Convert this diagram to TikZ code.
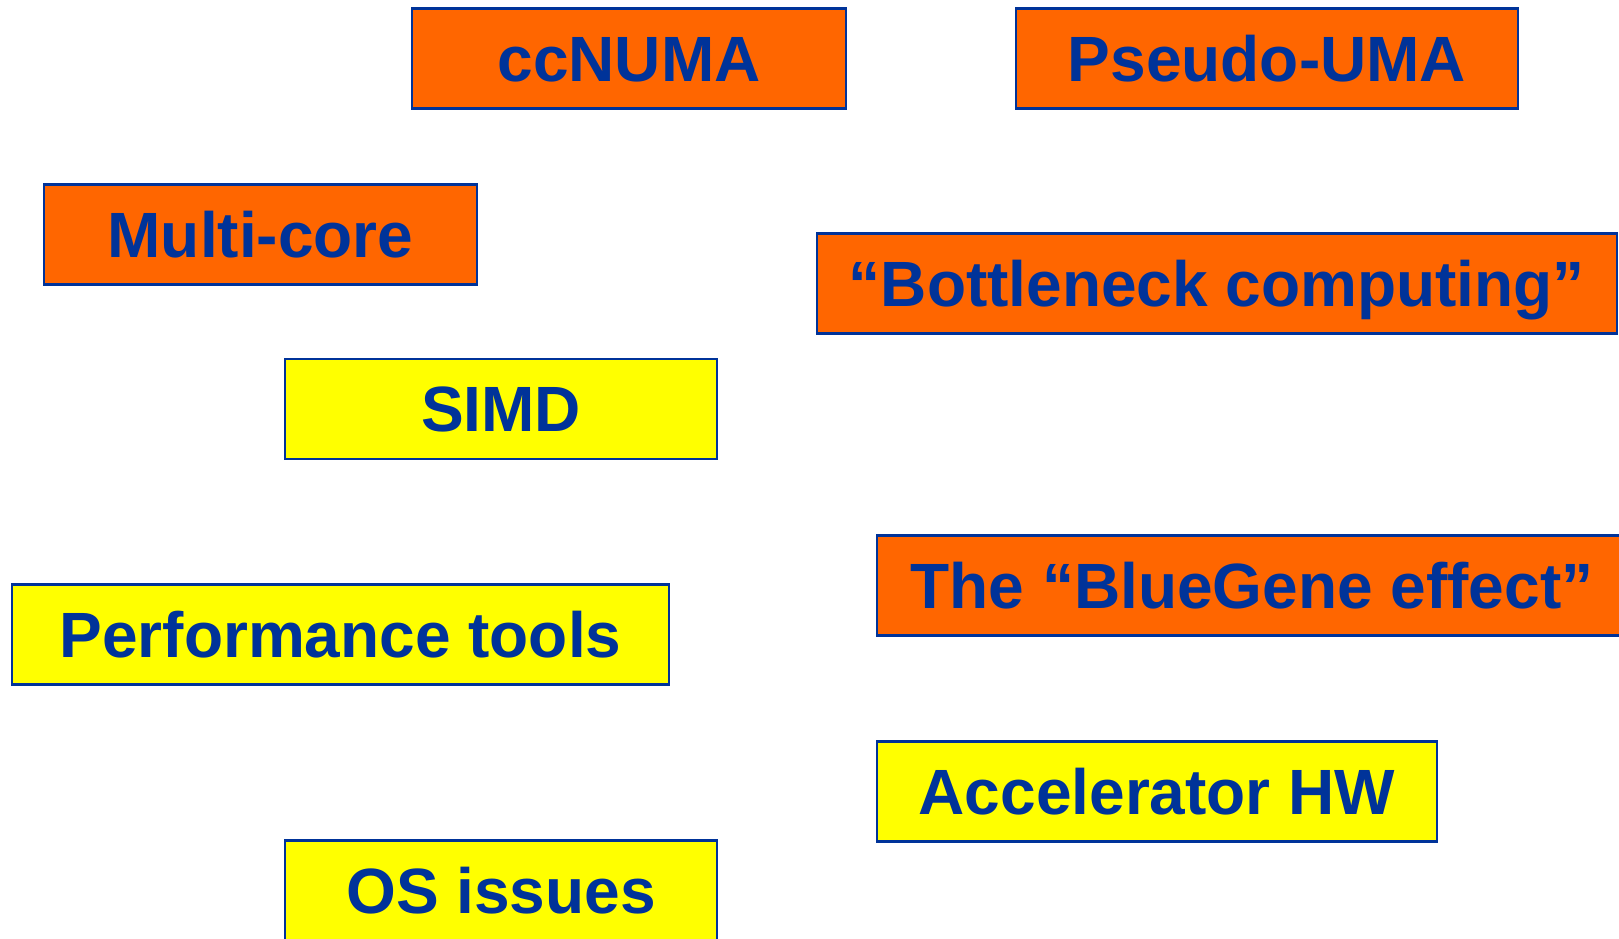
\documentclass[tikz,border=0pt]{standalone}
\usepackage{fontspec}
\setmainfont{Liberation Sans}
\definecolor{txtblue}{HTML}{003399}
\definecolor{boxorange}{HTML}{FF6600}
\definecolor{boxyellow}{HTML}{FFFF00}
\begin{document}
\begin{tikzpicture}[x=1pt,y=1pt,
  tbox/.style={draw=txtblue, line width=2.3pt, inner sep=0pt,
    minimum height=100pt, text=txtblue,
    font=\fontsize{64}{77}\selectfont\bfseries,
    text height=45.8pt, text depth=0pt, anchor=center},
  obox/.style={tbox, fill=boxorange},
  ybox/.style={tbox, fill=boxyellow}]
\useasboundingbox (0,0) rectangle (1619,938);
\node[obox, minimum width=434pt] (ccnuma) at (629,879.5) {ccNUMA};
\node[obox, minimum width=502pt] (puma) at (1267,879.5) {Pseudo-UMA};
\node[obox, minimum width=433pt] (multi) at (260.5,703.5) {Multi-core};
\node[obox, minimum width=800pt] (bottle) at (1217,654.5) {“Bottleneck computing”};
\node[ybox, minimum width=432pt] (simd) at (501,529) {SIMD};
\node[ybox, minimum width=657pt] (perf) at (340.5,303.5) {Performance tools};
\node[obox, minimum width=750pt] (bluegene) at (1252,352.5) {The “BlueGene effect”};
\node[ybox, minimum width=560pt] (accel) at (1157,146.5) {Accelerator HW};
\node[ybox, minimum width=432pt] (os) at (501,47.5) {OS issues};
\end{tikzpicture}
\end{document}
